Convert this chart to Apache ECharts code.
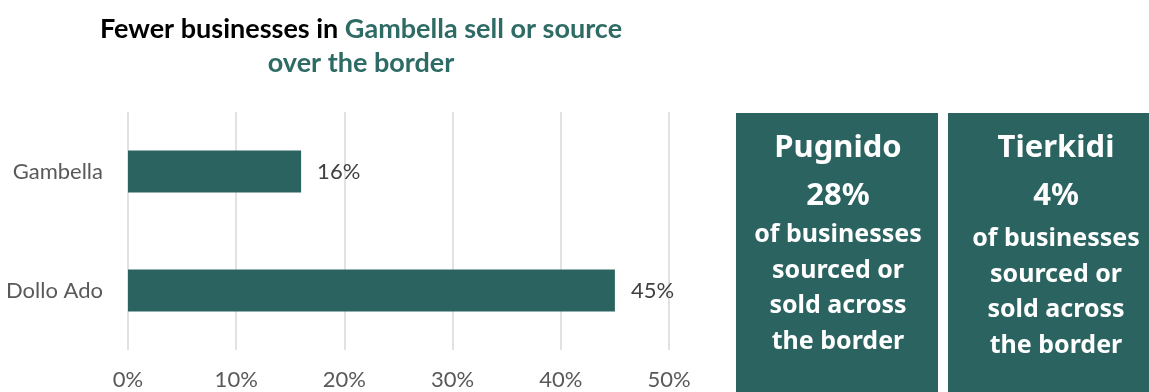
<!DOCTYPE html>
<html>
<head>
<meta charset="utf-8">
<script src="https://cdn.jsdelivr.net/npm/echarts@6/dist/echarts.min.js"></script>
<style>
  html, body { margin: 0; padding: 0; background: #ffffff; }
  #chart { width: 1149px; height: 392px; }
</style>
</head>
<body>
<div id="chart"></div>
<script>
// Share of businesses that sell or source across the border, by region
const categories = ['Gambella', 'Dollo Ado'];
const shareValues = [16, 45];
const tickLabels = ['0%', '10%', '20%', '30%', '40%', '50%'];

// Camp call-out panels
const camps = ['Pugnido', 'Tierkidi'];
const campShares = [28, 4];
const campCaption = ['of businesses', 'sourced or', 'sold across', 'the border'];

const teal = '#2b6360';
const chart = echarts.init(document.getElementById('chart'));

function panel(cx, x, w, name, share, dy) {
  const items = [{
    type: 'rect',
    shape: { x: x, y: 113, width: w, height: 290 },
    style: { fill: teal }
  }, {
    type: 'text',
    style: { text: name, x: cx, y: 148, align: 'center', verticalAlign: 'middle',
      fill: '#ffffff', font: 'bold 31px "Noto Sans"' }
  }, {
    type: 'text',
    style: { text: share + '%', x: cx, y: 196, align: 'center', verticalAlign: 'middle',
      fill: '#ffffff', font: 'bold 31px "Noto Sans"' }
  }];
  campCaption.forEach(function (line, i) {
    items.push({
      type: 'text',
      style: { text: line, x: cx, y: 235 + dy + i * 35.5, align: 'center', verticalAlign: 'middle',
        fill: '#ffffff', font: 'bold 25px "Noto Sans"' }
    });
  });
  return items;
}

chart.setOption({
  animation: false,
  title: {
    text: '{k|Fewer businesses in }{g|Gambella sell or source}\n{g|over the border}',
    left: 356,
    top: 7,
    textAlign: 'center',
    textStyle: {
      rich: {
        k: { fontFamily: 'Lato', fontWeight: 'bold', fontSize: 27, color: '#000000', lineHeight: 34 },
        g: { fontFamily: 'Lato', fontWeight: 'bold', fontSize: 27, color: '#2e6b64', lineHeight: 34 }
      }
    }
  },
  grid: { left: 128, right: 480, top: 112, bottom: 42 },
  xAxis: {
    type: 'value',
    min: 0,
    max: 50,
    interval: 10,
    axisLine: { show: false },
    axisTick: { show: false },
    splitLine: { lineStyle: { color: '#d9d9d9', width: 1.5 } },
    axisLabel: {
      margin: 19,
      fontFamily: 'Lato',
      fontSize: 22,
      color: '#595959',
      formatter: function (v) { return tickLabels[Math.round(v / 10)]; }
    }
  },
  yAxis: {
    type: 'category',
    inverse: true,
    data: categories,
    axisLine: { show: false },
    axisTick: { show: false },
    axisLabel: { margin: 25, fontFamily: 'Lato', fontSize: 22, color: '#595959' }
  },
  series: [{
    type: 'bar',
    data: shareValues,
    barWidth: 42,
    itemStyle: { color: teal },
    label: {
      show: true,
      position: 'right',
      distance: 16,
      formatter: '{c}%',
      fontFamily: 'Lato',
      fontSize: 22,
      color: '#404040'
    }
  }],
  graphic: [].concat(
    panel(838, 736, 202, camps[0], campShares[0], 0),
    panel(1056, 948, 210, camps[1], campShares[1], 4)
  )
});
</script>
</body>
</html>
